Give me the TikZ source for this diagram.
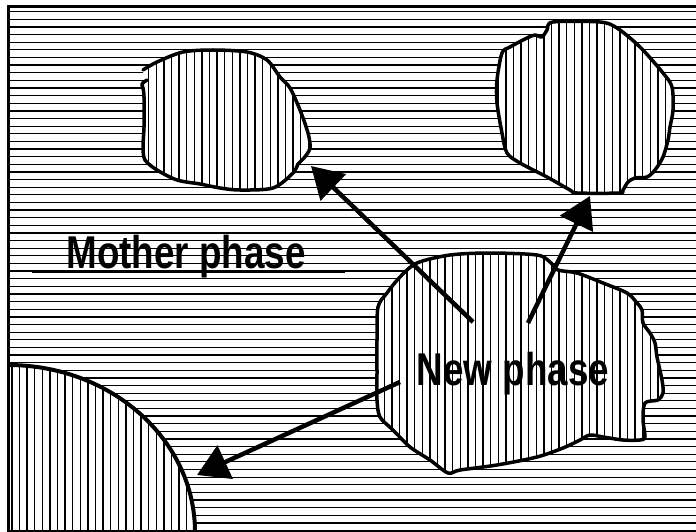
\documentclass[tikz,border=0pt]{standalone}
\usepackage{fontspec}
\setmainfont{Liberation Sans}
\usetikzlibrary{arrows.meta}

\tikzset{
  hatch/.style={line width=1.25pt, black},
  outline/.style={line width=3.5pt, line join=round, line cap=round},
  pointer/.style={line width=4.5pt, -{Triangle[length=31pt,width=36pt]}},
  phaselabel/.style={font=\fontsize{46}{46}\selectfont\bfseries, xscale=0.8, inner sep=0pt, anchor=base},
}

\newcommand{\vhatch}{%
  \foreach \xx in {4.3,11.9,...,700} \draw[hatch] (\xx,0) -- (\xx,540);}

\begin{document}
\begin{tikzpicture}[x=1pt,y=-1pt]
\useasboundingbox (0,0) rectangle (696,532);
\fill[white] (0,0) rectangle (696,532);

\begin{scope}
  \clip (8.5,6.5) rectangle (700,540);

  % matrix: horizontal hatching
  \foreach \yy in {11.7,19.33,...,540} \draw[hatch] (0,\yy) -- (700,\yy);

  % precipitate cut by the lower-left corner
  \begin{scope}
    \clip (8,532) ellipse [x radius=187pt, y radius=167pt];
    \fill[white] (0,0) rectangle (700,540);
    \vhatch
  \end{scope}
  \draw[line width=4pt] (8,532) ellipse [x radius=187pt, y radius=167pt];

  % upper-left particle
  \begin{scope}
    \clip plot[smooth cycle] coordinates {(147,80) (143,88) (144,97) (144,127) (143,147) (145,160) (157,170) (177,180) (200,184) (220,188) (240,190) (273,188) (293,173) (298,164) (304,158) (310,148) (308,133) (300,110) (290,88) (280,77) (267,60) (247,52) (213,50) (183,52) (157,62) (143,70)};
    \fill[white] (0,0) rectangle (700,540);
    \vhatch
  \end{scope}
  \draw[outline] plot[smooth] coordinates {(147,80) (142,84) (143,88) (144,97) (144,127) (143,147) (145,160) (157,170) (177,180) (200,184) (220,188) (240,190) (273,188) (293,173) (298,164) (304,158) (310,148) (308,133) (300,110) (290,88) (280,77) (267,60) (247,52) (213,50) (183,52) (157,62) (143,70)};

  % upper-right particle
  \begin{scope}
    \clip plot[smooth cycle] coordinates {(553,22) (600,22) (617,28) (640,47) (663,73) (672,87) (673,110) (670,127) (668,140) (663,157) (655,170) (647,177) (635,178) (628,182) (623,190) (619,193) (577,193) (570,190) (547,177) (520,163) (507,153) (502,133) (497,103) (497,80) (502,53) (510,47) (527,38) (535,35) (542,37) (547,30)};
    \fill[white] (0,0) rectangle (700,540);
    \vhatch
  \end{scope}
  \draw[outline] plot[smooth cycle] coordinates {(553,22) (600,22) (617,28) (640,47) (663,73) (672,87) (673,110) (670,127) (668,140) (663,157) (655,170) (647,177) (635,178) (628,182) (623,190) (619,193) (577,193) (570,190) (547,177) (520,163) (507,153) (502,133) (497,103) (497,80) (502,53) (510,47) (527,38) (535,35) (542,37) (547,30)};

  % central new-phase particle
  \begin{scope}
    \clip plot[smooth cycle] coordinates {(417,263) (450,255) (490,253) (537,255) (550,262) (558,270) (577,273) (603,283) (627,293) (637,303) (642,310) (643,323) (650,333) (655,343) (657,357) (662,380) (663,393) (658,400) (645,403) (643,420) (645,437) (640,440) (623,440) (603,437) (590,435) (580,440) (563,448) (537,457) (497,465) (460,470) (448,473) (430,460) (410,447) (393,430) (380,417) (377,400) (377,373) (377,340) (378,307) (387,293) (400,277)};
    \fill[white] (0,0) rectangle (700,540);
    \vhatch
  \end{scope}
  \draw[outline] plot[smooth cycle] coordinates {(417,263) (450,255) (490,253) (537,255) (550,262) (558,270) (577,273) (603,283) (627,293) (637,303) (642,310) (643,323) (650,333) (655,343) (657,357) (662,380) (663,393) (658,400) (645,403) (643,420) (645,437) (640,440) (623,440) (603,437) (590,435) (580,440) (563,448) (537,457) (497,465) (460,470) (448,473) (430,460) (410,447) (393,430) (380,417) (377,400) (377,373) (377,340) (378,307) (387,293) (400,277)};
\end{scope}

% frame
\draw[line width=3pt] (8.5,6.5) -- (700,6.5);
\draw[line width=3pt] (8.5,5) -- (8.5,532);
\draw[line width=2pt] (8.5,531) -- (700,531);

% underline below the matrix label
\draw[line width=2pt] (32,271.8) -- (345,271.8);

% growth directions
\coordinate (srcA) at (473,322);
\coordinate (srcB) at (528,323);
\coordinate (srcC) at (400,382);
\coordinate (tipA) at (311,166);
\coordinate (tipB) at (590,196);
\coordinate (tipC) at (197,475);
\draw[pointer] (srcA) -- (tipA);
\draw[pointer] (srcB) -- (tipB);
\draw[pointer] (srcC) -- (tipC);

% labels
\node[phaselabel] (mother) at (186,268) {Mother phase};
\node[phaselabel] (newph) at (513,385) {New phase};
\end{tikzpicture}
\end{document}
